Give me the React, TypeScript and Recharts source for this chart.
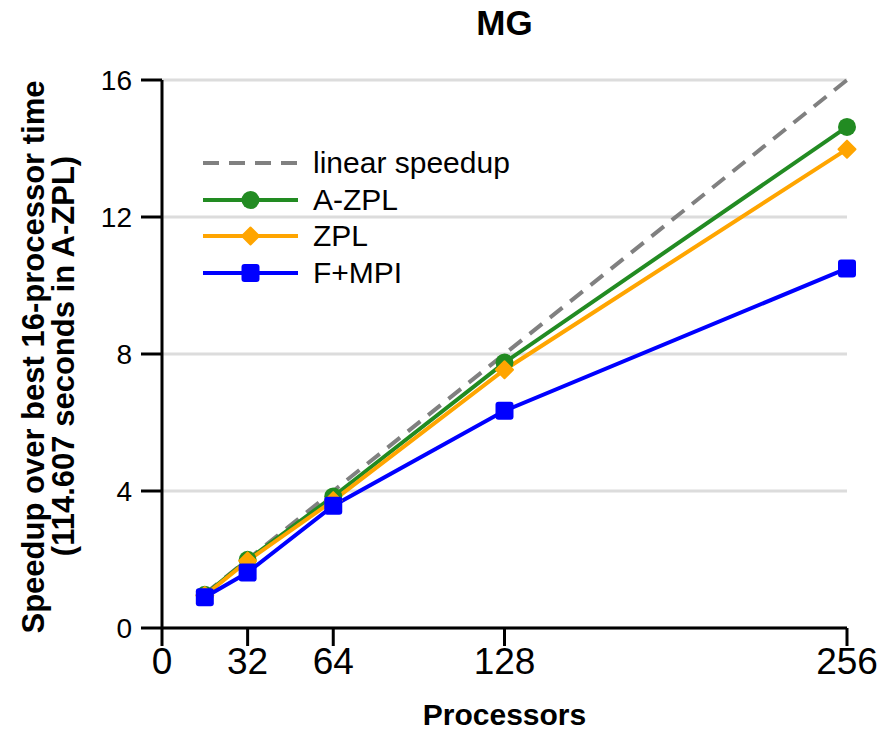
import { CartesianGrid, Legend, Line, LineChart, XAxis, YAxis } from "recharts";

const processors = [16, 32, 64, 128, 256];
const linearSpeedup = [1, 2, 4, 8, 16];
const aZpl = [0.97, 1.99, 3.84, 7.75, 14.63];
const zpl = [0.95, 1.96, 3.72, 7.54, 13.98];
const fMpi = [0.9, 1.62, 3.57, 6.34, 10.5];

const xTicks = [0, 32, 64, 128, 256];
const yTicks = [0, 4, 8, 12, 16];
const yMinorTicks = [1, 2, 3, 5, 6, 7, 9, 10, 11, 13, 14, 15];

const data = processors.map((p, i) => ({
	p,
	linear: linearSpeedup[i],
	azpl: aZpl[i],
	zpl: zpl[i],
	fmpi: fMpi[i],
}));

const FONT = '"Liberation Sans", Arial, sans-serif';

type Marker = "none" | "circle" | "diamond" | "square";

const series: { key: string; name: string; color: string; marker: Marker; dash?: string; width: number }[] = [
	{ key: "linear", name: "linear speedup", color: "#808080", marker: "none", dash: "16 10", width: 4 },
	{ key: "azpl", name: "A-ZPL", color: "#228B22", marker: "circle", width: 4 },
	{ key: "zpl", name: "ZPL", color: "#FFA500", marker: "diamond", width: 4 },
	{ key: "fmpi", name: "F+MPI", color: "#0000FF", marker: "square", width: 4 },
];

function MarkerShape({ cx, cy, color, marker }: { cx: number; cy: number; color: string; marker: Marker }) {
	if (marker === "circle") return <circle cx={cx} cy={cy} r={9} fill={color} />;
	if (marker === "diamond") {
		const s = 8.5;
		return (
			<polygon
				points={`${cx},${cy - s} ${cx + s},${cy} ${cx},${cy + s} ${cx - s},${cy}`}
				fill={color}
				stroke={color}
				strokeWidth={2}
				strokeLinejoin="round"
			/>
		);
	}
	if (marker === "square") {
		const s = 18;
		return <rect x={cx - s / 2} y={cy - s / 2} width={s} height={s} rx={3} fill={color} />;
	}
	return <g />;
}

function LegendBox() {
	return (
		<div style={{ fontFamily: FONT, fontSize: 30, color: "#000" }}>
			{series.map((s) => (
				<div key={s.key} style={{ display: "flex", alignItems: "center", height: 36.5 }}>
					<svg width={95} height={22} style={{ marginRight: 15, overflow: "visible" }}>
						<line
							x1={0}
							y1={11}
							x2={95}
							y2={11}
							stroke={s.color}
							strokeWidth={s.width}
							strokeDasharray={s.dash}
						/>
						<MarkerShape cx={47.5} cy={11} color={s.color} marker={s.marker} />
					</svg>
					<span style={{ whiteSpace: "nowrap" }}>{s.name}</span>
				</div>
			))}
		</div>
	);
}

function YLabel() {
	const style = { fontFamily: FONT, fontSize: 31, fontWeight: 700, fill: "#000" };
	return (
		<g>
			<text transform="translate(44,357) rotate(-90)" textAnchor="middle" style={style}>
				Speedup over best 16-processor time
			</text>
			<text transform="translate(74,356) rotate(-90)" textAnchor="middle" style={style}>
				(114.607 seconds in A-ZPL)
			</text>
		</g>
	);
}

function XLabel() {
	return (
		<text
			x={504.5}
			y={725}
			textAnchor="middle"
			style={{ fontFamily: FONT, fontSize: 30, fontWeight: 700, fill: "#000" }}
		>
			Processors
		</text>
	);
}

export default function App() {
	return (
		<div style={{ position: "relative", width: 889, height: 730, background: "#fff" }}>
			<style>{`body{margin:0;}`}</style>
			<div
				style={{
					position: "absolute",
					left: 404.5,
					top: 5,
					width: 200,
					textAlign: "center",
					fontFamily: FONT,
					fontSize: 35,
					lineHeight: "35px",
					fontWeight: 700,
				}}
			>
				MG
			</div>
			<LineChart width={889} height={730} data={data} margin={{ top: 80, right: 42, bottom: 0, left: 0 }}>
				<CartesianGrid vertical={false} stroke="#dcdcdc" strokeWidth={3} />
				<XAxis
					type="number"
					dataKey="p"
					domain={[0, 256]}
					ticks={xTicks}
					interval={0}
					height={102}
					tickSize={18}
					tickMargin={2}
					axisLine={{ stroke: "#000", strokeWidth: 3 }}
					tickLine={{ stroke: "#000", strokeWidth: 3 }}
					tick={{ fill: "#000", fontSize: 37, fontFamily: FONT }}
					label={<XLabel />}
				/>
				<YAxis
					type="number"
					domain={[0, 16]}
					ticks={yTicks}
					interval={0}
					width={162}
					tickSize={21}
					tickMargin={9}
					axisLine={{ stroke: "#000", strokeWidth: 3 }}
					tickLine={{ stroke: "#000", strokeWidth: 3 }}
					tick={{ fill: "#000", fontSize: 28, fontFamily: FONT }}
					label={<YLabel />}
				/>
				<YAxis
					yAxisId="minor"
					type="number"
					domain={[0, 16]}
					ticks={yMinorTicks}
					interval={0}
					width={0}
					tickSize={12}
					axisLine={false}
					tickLine={{ stroke: "#000", strokeWidth: 3 }}
					tick={() => <g />}
				/>
				<Legend
					layout="vertical"
					align="center"
					verticalAlign="middle"
					wrapperStyle={{ position: "absolute", left: 203, top: 145, width: 340 }}
					content={() => <LegendBox />}
				/>
				{series.map((s) => (
					<Line
						key={s.key}
						type="linear"
						dataKey={s.key}
						name={s.name}
						stroke={s.color}
						strokeWidth={s.width}
						strokeDasharray={s.dash}
						isAnimationActive={false}
						dot={
							s.marker === "none"
								? false
								: (props: any) => (
										<MarkerShape
											key={`${s.key}-${props.index}`}
											cx={props.cx}
											cy={props.cy}
											color={s.color}
											marker={s.marker}
										/>
									)
						}
						activeDot={false}
					/>
				))}
			</LineChart>
		</div>
	);
}
